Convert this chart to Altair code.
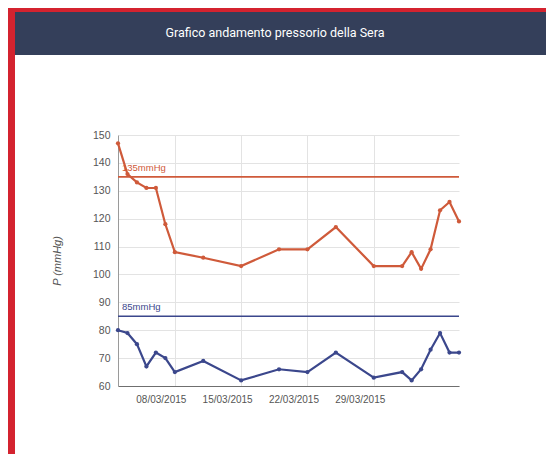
import altair as alt
import pandas as pd

# ---- data ----
dates = ["2015-03-02", "2015-03-03", "2015-03-04", "2015-03-05", "2015-03-06",
         "2015-03-07", "2015-03-08", "2015-03-11", "2015-03-15", "2015-03-19",
         "2015-03-22", "2015-03-25", "2015-03-29", "2015-04-01", "2015-04-02",
         "2015-04-03", "2015-04-04", "2015-04-05", "2015-04-06", "2015-04-07"]
sistolica = [147, 136, 133, 131, 131, 118, 108, 106, 103, 109,
             109, 117, 103, 103, 108, 102, 109, 123, 126, 119]
diastolica = [80, 79, 75, 67, 72, 70, 65, 69, 62, 66,
              65, 72, 63, 65, 62, 66, 73, 79, 72, 72]
series_names = ["Sistolica", "Diastolica"]
series_colors = ["#cf5a3a", "#3b478c"]
threshold_values = [135, 85]
threshold_labels = ["135mmHg", "85mmHg"]
y_ticks = [60, 70, 80, 90, 100, 110, 120, 130, 140, 150]
x_tick_dates = [(2015, 3, 8), (2015, 3, 15), (2015, 3, 22), (2015, 3, 29)]
title_text = "Grafico andamento pressorio della Sera"

rows = []
for d, s, di in zip(dates, sistolica, diastolica):
    rows.append({"date": d, "serie": series_names[0], "value": s})
    rows.append({"date": d, "serie": series_names[1], "value": di})
df = pd.DataFrame(rows)

thr = pd.DataFrame({"value": threshold_values, "label": threshold_labels,
                    "serie": series_names})

W, H = 341, 251
PL, PT, PR, PB = 110, 127, 87, 68

color = alt.Color("serie:N", scale=alt.Scale(domain=series_names, range=series_colors),
                  legend=None)

x_enc = alt.X(
    "date:T",
    scale=alt.Scale(type="utc",
                    domain=[alt.DateTime(year=2015, month=3, date=2, utc=True),
                            alt.DateTime(year=2015, month=4, date=7, utc=True)]),
    axis=alt.Axis(
        values=[alt.DateTime(year=y, month=m, date=d, utc=True) for (y, m, d) in x_tick_dates],
        format="%d/%m/%Y", title=None, tickSize=0, labelPadding=8, labelOffset=-14,
        labelFontSize=10, labelColor="#555555", labelFont="Liberation Sans",
        labelOverlap=False,
        grid=True, gridColor="#e3e3e3", domainColor="#6f6f6f", domainWidth=1.2,
    ),
)
y_scale = alt.Scale(domain=[60, 150], nice=False, zero=False)
y_axis = alt.Axis(values=y_ticks, title="P (mmHg)", tickSize=0, labelPadding=8,
                  labelFontSize=10.5, labelColor="#555555", labelFont="Liberation Sans",
                  labelOverlap=False,
                  titleFont="Liberation Sans", titleFontSize=11,
                  titleFontStyle="italic", titleFontWeight="normal",
                  titleColor="#555555", titlePadding=30,
                  grid=True, gridColor="#e3e3e3", domainColor="#9a9a9a")
y_enc = alt.Y("value:Q", scale=y_scale, axis=y_axis)

lines = alt.Chart(df).mark_line(
    strokeWidth=2.2,
    point=alt.OverlayMarkDef(filled=True, size=18),
).encode(
    x=x_enc,
    y=y_enc,
    color=color,
    detail="serie:N",
)

rules = alt.Chart(thr).mark_rule(strokeWidth=1.6).encode(
    y=y_enc,
    color=color,
)

rule_labels = alt.Chart(thr).mark_text(
    align="left", baseline="middle", dy=-9, fontSize=9.5, font="Liberation Sans",
).encode(
    x=alt.value(4),
    y=y_enc,
    text="label:N",
    color=color,
)

one = pd.DataFrame({"k": [0]})
red_left = alt.Chart(one).mark_rect(color="#d4232f").encode(
    x=alt.value(-PL), x2=alt.value(-PL + 7), y=alt.value(-PT), y2=alt.value(H + PB))
red_top = alt.Chart(one).mark_rect(color="#d4232f").encode(
    x=alt.value(-PL), x2=alt.value(W + PR), y=alt.value(-PT), y2=alt.value(-PT + 4))
header = alt.Chart(one).mark_rect(color="#343f5a").encode(
    x=alt.value(-PL + 7), x2=alt.value(W + PR), y=alt.value(-PT + 4), y2=alt.value(-PT + 47))
header_text = alt.Chart(one).mark_text(
    text=title_text, color="white", fontSize=12.5, font="Roboto",
    align="center", baseline="middle",
).encode(x=alt.value(157), y=alt.value(-102))

chart = alt.layer(
    red_left, red_top, header, header_text, lines, rules, rule_labels
).properties(
    width=W, height=H,
    autosize=alt.AutoSizeParams(type="none"),
    padding={"left": PL, "top": PT, "right": PR, "bottom": PB},
    background="white",
).configure_view(stroke=None)

chart.save("out.html", embed_options={"renderer": "svg", "actions": False})
